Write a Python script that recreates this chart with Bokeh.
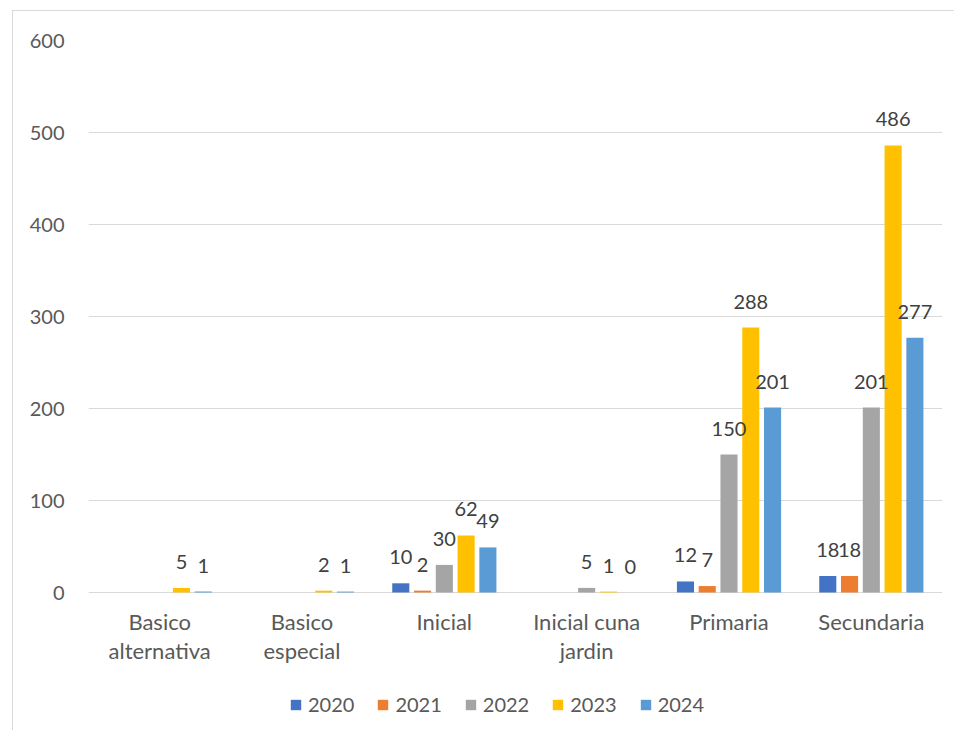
from bokeh.plotting import figure
from bokeh.models import ColumnDataSource, LabelSet, Range1d, Legend, LegendItem, FixedTicker
from bokeh.transform import dodge
from bokeh.embed import file_html
from bokeh.resources import INLINE
from bokeh.core.properties import value

categories = ["Basico alternativa", "Basico especial", "Inicial",
              "Inicial cuna jardin", "Primaria", "Secundaria"]
label_line1 = ["Basico", "Basico", "Inicial", "Inicial cuna", "Primaria", "Secundaria"]
label_line2 = ["alternativa", "especial", "", "jardin", "", ""]
years = ["2020", "2021", "2022", "2023", "2024"]
v2020 = [None, None, 10, None, 12, 18]
v2021 = [None, None, 2, None, 7, 18]
v2022 = [None, None, 30, 5, 150, 201]
v2023 = [5, 2, 62, 1, 288, 486]
v2024 = [1, 1, 49, 0, 201, 277]
series = [v2020, v2021, v2022, v2023, v2024]
colors = ["#4472C4", "#ED7D31", "#A5A5A5", "#FFC000", "#5B9BD5"]
y_ticks = [0, 100, 200, 300, 400, 500, 600]

FONT = "Lato"

# frame extends below zero to hold category labels and legend
p = figure(x_range=categories, y_range=Range1d(-150, 600),
           frame_width=854, frame_height=690,
           output_backend="svg", toolbar_location=None,
           min_border_left=75, min_border_right=12, min_border_top=29,
           min_border_bottom=0)
p.styles = {"margin-left": "12px", "margin-top": "10px",
            "border-left": "1px solid #D9D9D9", "border-top": "1px solid #D9D9D9"}
p.outline_line_color = None
p.xgrid.grid_line_color = None
p.ygrid.grid_line_color = "#D9D9D9"
p.ygrid.grid_line_width = 1
p.yaxis.ticker = FixedTicker(ticks=y_ticks)
p.yaxis.axis_line_color = None
p.yaxis.major_tick_line_color = None
p.yaxis.minor_tick_line_color = None
p.yaxis.major_label_text_font = FONT
p.yaxis.major_label_text_font_size = "20px"
p.yaxis.major_label_text_color = "#595959"
p.yaxis.major_label_standoff = 18
p.xaxis.visible = False

# category labels under the zero line (two centred lines)
cat_src = ColumnDataSource(dict(cat=categories, l1=label_line1, l2=label_line2,
                                y=[0] * len(categories)))
for col_name, off in (("l1", -15), ("l2", -44)):
    p.add_layout(LabelSet(x="cat", y="y", text=col_name, source=cat_src,
                          text_align="center", text_baseline="top", y_offset=off,
                          text_font=value(FONT), text_font_size="22px",
                          text_color="#595959"))

step = 0.153
width = 0.12
items = []
for i, (yr, vals, col) in enumerate(zip(years, series, colors)):
    cats = [c for c, v in zip(categories, vals) if v is not None]
    vs = [v for v in vals if v is not None]
    src = ColumnDataSource(dict(cat=cats, val=vs, txt=[str(v) for v in vs]))
    off = (i - 2) * step
    r = p.vbar(x=dodge("cat", off, range=p.x_range), top="val", width=width,
               source=src, fill_color=col, line_color=None)
    items.append(LegendItem(label=yr, renderers=[r]))
    lbl = LabelSet(x=dodge("cat", off, range=p.x_range), y="val", text="txt",
                   source=src, text_align="center", text_baseline="bottom",
                   y_offset=19, text_font=value(FONT), text_font_size="20px",
                   text_color="#404040")
    p.add_layout(lbl)

legend = Legend(items=items, orientation="horizontal", location=(201, 14),
                glyph_width=13, glyph_height=13, label_standoff=6, spacing=22,
                label_text_font=FONT, label_text_font_size="20px",
                label_text_color="#595959", border_line_color=None,
                background_fill_alpha=0, padding=4, margin=0)
p.add_layout(legend)

open("out.html", "w").write(file_html(p, INLINE))
